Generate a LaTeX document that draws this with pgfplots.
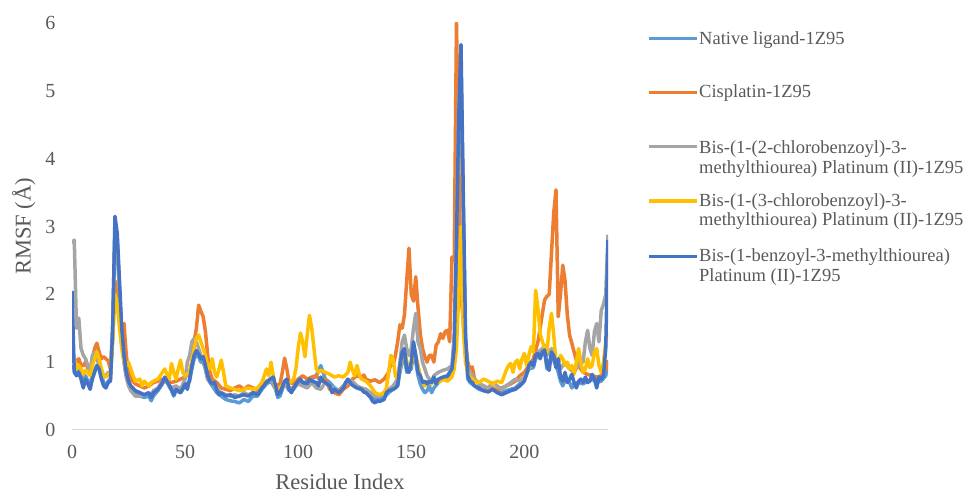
\documentclass[border=0pt]{standalone}
\usepackage{pgfplots}
\pgfplotsset{compat=1.18}
\usepackage{fontspec}
\setmainfont{Liberation Serif}
\definecolor{cNative}{HTML}{5B9BD5}
\definecolor{cCis}{HTML}{ED7D31}
\definecolor{cGray}{HTML}{A5A5A5}
\definecolor{cYel}{HTML}{FFC000}
\definecolor{cBlue}{HTML}{4472C4}
\definecolor{labelgray}{HTML}{595959}
\begin{document}
\begin{tikzpicture}
\path[use as bounding box] (0pt,0pt) rectangle (966pt,494pt);
\begin{axis}[
 at={(72pt,64pt)}, anchor=south west, scale only axis,
 width=536pt, height=407pt,
 xmin=0, xmax=237, ymin=0, ymax=6,
 axis x line*=bottom, axis y line*=left,
 y axis line style={draw=none},
 x axis line style={draw=black!15, line width=1pt, -},
 major tick length=0pt,
 xtick={0,50,100,150,200}, ytick={0,1,2,3,4,5,6},
 /pgf/number format/assume math mode=true,
 tick label style={font=\fontsize{20}{20}\selectfont, text=labelgray},
 yticklabel style={xshift=-13pt},
 xticklabel style={yshift=-12pt},
 xlabel={Residue Index}, ylabel={RMSF (Å)},
 every axis x label/.style={at={(axis description cs:0.5,-0.147)}, anchor=base, inner sep=0pt, font=\fontsize{22.5}{22.5}\selectfont, text=labelgray},
 every axis y label/.style={at={(axis description cs:-0.09,0.5)}, rotate=90, anchor=center, inner sep=0pt, font=\fontsize{22.5}{22.5}\selectfont, text=labelgray},
 every axis plot/.append style={line width=3.5pt, line join=round, no markers},
]
\addplot[cNative] coordinates {
(0,0.9)(1,0.95)(2,0.88)(3,0.9)(4,0.8)(5,0.7)(6,0.8)(7,0.72)(8,0.68)(9,0.8)(10,0.88)(11,0.95)(12,0.9)(13,0.8)(14,0.7)(15,0.66)(16,0.72)(17,0.75)(18,1.4)(19,2.9)(20,2.8)(21,2.0)(22,1.4)(23,1.0)(24,0.8)(25,0.7)(26,0.62)(28,0.55)(30,0.5)(32,0.48)(34,0.5)(35,0.43)(36,0.5)(38,0.58)(40,0.68)(41,0.75)(42,0.7)(44,0.58)(45,0.5)(46,0.58)(48,0.55)(50,0.65)(52,0.72)(53,0.9)(54,1.05)(55,1.1)(56,1.08)(57,1.0)(58,1.0)(59,0.9)(60,0.75)(62,0.65)(64,0.55)(66,0.5)(68,0.45)(70,0.43)(72,0.42)(74,0.4)(76,0.45)(78,0.42)(80,0.5)(82,0.5)(84,0.6)(86,0.68)(88,0.72)(90,0.6)(91,0.48)(92,0.5)(94,0.7)(96,0.58)(98,0.6)(100,0.7)(102,0.68)(104,0.72)(106,0.75)(108,0.8)(110,0.95)(111,0.85)(112,0.75)(114,0.7)(116,0.62)(118,0.58)(120,0.65)(122,0.72)(124,0.68)(126,0.62)(128,0.6)(130,0.55)(132,0.5)(134,0.45)(136,0.45)(138,0.48)(140,0.55)(142,0.6)(144,0.65)(145,0.85)(146,1.0)(147,1.1)(148,0.85)(150,0.9)(151,1.15)(152,1.0)(153,0.8)(154,0.68)(155,0.6)(156,0.55)(157,0.58)(158,0.65)(159,0.55)(160,0.62)(162,0.7)(164,0.75)(166,0.78)(168,0.85)(169,1.1)(170,2.5)(171,4.2)(172,5.3)(173,3.2)(174,1.3)(175,0.75)(176,0.7)(178,0.65)(180,0.6)(182,0.58)(184,0.6)(186,0.62)(188,0.58)(190,0.55)(192,0.58)(194,0.6)(196,0.62)(198,0.68)(200,0.75)(202,0.9)(204,0.92)(205,1.05)(206,1.1)(208,1.12)(209,1.15)(210,0.9)(212,1.1)(214,0.95)(215,0.85)(216,0.72)(217,0.65)(218,0.75)(220,0.7)(221,0.62)(222,0.68)(224,0.7)(226,0.68)(228,0.72)(230,0.75)(232,0.7)(234,0.72)(236,0.8)(237,1.0)
};
\addplot[cCis] coordinates {
(0,1.0)(1,1.05)(2,1.0)(3,1.05)(4,0.95)(5,0.95)(6,1.0)(7,0.9)(8,0.85)(9,1.05)(10,1.2)(11,1.28)(12,1.15)(13,1.05)(14,1.08)(15,1.05)(16,1.02)(17,0.9)(18,1.4)(19,2.2)(20,2.0)(21,1.7)(22,1.5)(23,1.57)(24,1.1)(25,0.85)(26,0.75)(28,0.68)(30,0.65)(32,0.62)(34,0.65)(36,0.7)(38,0.72)(40,0.75)(42,0.72)(44,0.7)(46,0.72)(48,0.75)(50,0.78)(52,0.85)(53,1.0)(54,1.3)(55,1.5)(56,1.84)(57,1.75)(58,1.67)(59,1.45)(60,1.1)(61,0.85)(62,0.75)(64,0.7)(66,0.62)(68,0.6)(70,0.58)(72,0.62)(74,0.65)(76,0.6)(78,0.65)(80,0.62)(82,0.6)(84,0.65)(86,0.72)(88,0.75)(90,0.65)(92,0.68)(93,0.85)(94,1.06)(95,0.9)(96,0.7)(98,0.68)(100,0.75)(102,0.8)(104,0.75)(106,0.78)(108,0.8)(110,0.72)(112,0.75)(114,0.6)(116,0.55)(118,0.52)(120,0.6)(122,0.65)(124,0.75)(126,0.8)(128,0.78)(129,0.81)(130,0.75)(132,0.72)(134,0.74)(136,0.7)(138,0.75)(139,0.8)(140,0.85)(141,0.98)(142,0.95)(143,1.1)(144,1.3)(145,1.55)(146,1.5)(147,1.7)(148,2.2)(149,2.68)(150,2.0)(151,1.9)(152,2.26)(153,1.8)(154,1.42)(155,1.2)(156,1.08)(157,1.0)(158,1.1)(159,1.1)(160,1.0)(161,1.25)(162,1.3)(163,1.42)(164,1.35)(165,1.45)(166,1.47)(167,1.3)(168,2.55)(169,2.5)(170,6.0)(171,4.0)(172,2.0)(173,1.6)(174,1.28)(175,1.0)(176,0.9)(177,0.93)(178,0.75)(180,0.68)(182,0.65)(184,0.6)(186,0.62)(188,0.58)(190,0.62)(192,0.65)(194,0.68)(196,0.72)(198,0.8)(200,0.85)(202,0.95)(204,1.05)(206,1.3)(207,1.5)(208,1.72)(209,1.92)(210,1.97)(211,2.0)(212,2.6)(213,3.2)(214,3.54)(215,1.67)(216,2.0)(217,2.43)(218,2.2)(219,1.7)(220,1.4)(221,1.28)(222,1.15)(223,1.03)(224,0.95)(225,0.9)(226,0.85)(228,0.82)(230,0.8)(232,0.78)(234,0.8)(236,0.9)(237,1.03)
};
\addplot[cGray] coordinates {
(0,2.75)(1,2.8)(2,1.5)(3,1.65)(4,1.2)(5,1.1)(6,1.05)(7,0.95)(8,0.85)(9,1.1)(10,1.15)(11,1.05)(12,0.95)(13,0.85)(14,0.78)(15,0.8)(16,0.85)(17,0.8)(18,1.6)(19,3.0)(20,2.7)(21,2.0)(22,1.4)(23,1.0)(24,0.78)(25,0.65)(26,0.58)(28,0.5)(30,0.5)(32,0.52)(34,0.55)(35,0.5)(36,0.58)(38,0.62)(40,0.72)(42,0.7)(44,0.62)(46,0.65)(48,0.6)(50,0.75)(51,1.0)(52,1.1)(53,1.3)(54,1.35)(55,1.3)(56,1.2)(57,1.1)(58,1.05)(59,0.9)(60,0.75)(62,0.7)(64,0.6)(66,0.55)(68,0.52)(70,0.5)(72,0.52)(74,0.5)(76,0.55)(78,0.52)(80,0.55)(82,0.55)(84,0.62)(86,0.7)(88,0.75)(90,0.62)(92,0.55)(94,0.7)(96,0.62)(98,0.62)(100,0.68)(102,0.65)(104,0.62)(106,0.7)(108,0.62)(110,0.6)(112,0.7)(114,0.65)(116,0.6)(118,0.58)(120,0.65)(122,0.7)(124,0.72)(126,0.65)(128,0.62)(130,0.6)(132,0.55)(134,0.5)(136,0.5)(138,0.55)(140,0.6)(142,0.65)(144,0.75)(145,1.0)(146,1.3)(147,1.4)(148,1.2)(149,1.1)(150,1.2)(151,1.5)(152,1.72)(153,1.3)(154,1.2)(155,1.0)(156,0.9)(157,0.8)(158,0.75)(159,0.72)(160,0.8)(162,0.85)(164,0.88)(166,0.9)(168,0.95)(169,1.4)(170,3.0)(171,4.8)(172,5.4)(173,3.3)(174,1.3)(175,0.9)(176,0.85)(178,0.75)(180,0.68)(182,0.65)(184,0.62)(186,0.7)(188,0.65)(190,0.6)(192,0.65)(194,0.7)(196,0.75)(198,0.72)(200,0.78)(202,0.9)(204,1.0)(205,1.05)(206,1.15)(208,1.2)(209,1.25)(210,1.1)(212,1.2)(214,1.0)(215,0.95)(216,0.9)(218,1.0)(220,0.9)(222,0.85)(224,0.95)(225,1.05)(226,1.0)(227,1.3)(228,1.47)(229,1.2)(230,1.1)(231,1.45)(232,1.57)(233,1.3)(234,1.76)(235,1.85)(236,2.0)(237,2.88)
};
\addplot[cYel] coordinates {
(0,1.0)(1,1.05)(2,0.9)(3,0.95)(4,0.9)(5,0.82)(6,0.88)(7,0.85)(8,0.8)(9,0.95)(10,1.05)(11,1.15)(12,1.05)(13,0.9)(14,0.8)(15,0.78)(16,0.82)(17,0.85)(18,1.3)(19,2.0)(20,1.85)(21,1.5)(22,1.2)(23,1.0)(24,0.95)(25,1.0)(26,0.9)(27,0.8)(28,0.72)(30,0.75)(31,0.65)(32,0.72)(34,0.65)(35,0.7)(36,0.72)(38,0.75)(40,0.85)(41,0.9)(42,0.82)(43,0.75)(44,0.98)(45,0.85)(46,0.75)(47,0.9)(48,1.03)(49,0.85)(50,0.8)(52,0.85)(53,1.0)(54,1.2)(55,1.35)(56,1.4)(57,1.3)(58,1.2)(59,1.1)(60,0.95)(61,0.9)(62,1.05)(63,0.85)(64,0.78)(65,0.9)(66,1.03)(67,0.85)(68,0.65)(70,0.62)(72,0.6)(74,0.58)(76,0.6)(78,0.62)(80,0.6)(82,0.62)(84,0.7)(86,0.9)(87,0.8)(88,1.0)(89,0.8)(90,0.6)(92,0.62)(94,0.7)(96,0.68)(98,0.75)(99,0.9)(100,1.2)(101,1.43)(102,1.3)(103,1.08)(104,1.4)(105,1.69)(106,1.5)(107,1.2)(108,0.9)(109,0.85)(110,0.88)(112,0.85)(114,0.82)(116,0.78)(118,0.8)(120,0.78)(122,0.85)(123,1.0)(124,0.88)(125,0.8)(126,0.95)(127,0.82)(128,0.75)(130,0.72)(132,0.65)(134,0.55)(136,0.52)(138,0.55)(139,0.62)(140,0.85)(141,1.1)(142,1.05)(143,0.8)(144,0.75)(145,0.9)(146,1.1)(147,1.2)(148,1.0)(150,0.95)(151,1.2)(152,1.1)(153,0.95)(154,0.8)(155,0.7)(156,0.65)(157,0.7)(158,0.72)(159,0.68)(160,0.75)(162,0.7)(164,0.75)(166,0.72)(168,0.78)(169,0.9)(170,1.2)(171,2.0)(172,3.0)(173,1.5)(174,1.0)(175,0.85)(176,0.78)(178,0.72)(180,0.7)(182,0.75)(184,0.72)(186,0.68)(188,0.72)(190,0.7)(192,0.88)(193,0.95)(194,0.98)(195,0.85)(196,1.0)(197,1.03)(198,0.9)(199,1.05)(200,1.13)(201,0.95)(202,1.1)(203,1.23)(204,1.15)(205,2.06)(206,1.8)(207,1.42)(208,1.3)(209,1.2)(210,1.15)(211,1.5)(212,1.72)(213,1.4)(214,1.0)(215,0.98)(216,1.1)(217,1.05)(218,0.95)(219,1.0)(220,0.9)(221,0.95)(222,0.82)(223,1.0)(224,1.2)(225,1.0)(226,0.85)(227,0.9)(228,1.05)(229,0.92)(230,0.95)(231,1.15)(232,1.2)(233,0.95)(234,0.85)(235,1.0)(236,1.3)(237,1.45)
};
\addplot[cBlue] coordinates {
(0,2.05)(1,0.85)(2,0.8)(3,0.85)(4,0.75)(5,0.62)(6,0.75)(7,0.68)(8,0.6)(9,0.75)(10,0.85)(11,0.95)(12,0.9)(13,0.75)(14,0.65)(15,0.62)(16,0.7)(17,0.72)(18,1.5)(19,3.15)(20,2.9)(21,2.2)(22,1.5)(23,1.1)(24,0.85)(25,0.72)(26,0.65)(28,0.58)(30,0.55)(32,0.52)(34,0.55)(35,0.48)(36,0.55)(38,0.6)(40,0.7)(41,0.78)(42,0.72)(44,0.6)(45,0.52)(46,0.6)(48,0.55)(50,0.68)(51,0.6)(52,0.75)(53,0.95)(54,1.1)(55,1.17)(56,1.12)(57,1.05)(58,1.08)(59,0.95)(60,0.8)(61,0.72)(62,0.68)(63,0.7)(64,0.6)(65,0.52)(66,0.55)(68,0.5)(70,0.52)(72,0.48)(74,0.5)(76,0.52)(78,0.5)(80,0.55)(82,0.52)(84,0.62)(86,0.7)(88,0.76)(89,0.78)(90,0.65)(91,0.52)(92,0.55)(94,0.72)(95,0.75)(96,0.6)(97,0.55)(98,0.62)(100,0.72)(101,0.75)(102,0.7)(104,0.68)(105,0.75)(106,0.72)(108,0.7)(109,0.65)(110,0.78)(111,0.72)(112,0.7)(114,0.65)(115,0.55)(116,0.6)(118,0.55)(120,0.62)(121,0.7)(122,0.75)(123,0.7)(124,0.66)(126,0.62)(128,0.6)(129,0.56)(130,0.55)(132,0.48)(133,0.42)(134,0.4)(135,0.43)(136,0.42)(138,0.45)(139,0.55)(140,0.58)(142,0.6)(143,0.62)(144,0.66)(145,0.95)(146,1.15)(147,1.2)(148,0.9)(149,0.85)(150,1.0)(151,1.3)(152,1.1)(153,0.85)(154,0.8)(155,0.7)(156,0.72)(157,0.68)(158,0.72)(159,0.7)(160,0.78)(161,0.68)(162,0.75)(164,0.78)(166,0.8)(168,0.9)(169,1.2)(170,2.8)(171,4.6)(172,5.68)(173,3.5)(174,1.4)(175,0.8)(176,0.72)(177,0.7)(178,0.65)(180,0.62)(182,0.58)(184,0.56)(186,0.6)(188,0.55)(190,0.52)(192,0.55)(194,0.58)(196,0.6)(198,0.65)(200,0.72)(201,0.82)(202,0.95)(203,1.0)(204,0.95)(205,1.1)(206,1.13)(207,1.05)(208,1.15)(209,1.18)(210,0.95)(211,0.88)(212,1.15)(213,1.1)(214,0.92)(215,1.05)(216,0.78)(217,0.72)(218,0.85)(219,0.7)(220,0.75)(221,0.82)(222,0.7)(223,0.62)(224,0.72)(225,0.75)(226,0.7)(227,0.78)(228,0.7)(229,0.72)(230,0.82)(231,0.75)(232,0.62)(233,0.78)(234,0.75)(235,0.8)(236,1.2)(237,2.8)
};
\end{axis}
% legend
\begin{scope}[every node/.style={anchor=base west, inner sep=0pt, text=labelgray, font=\fontsize{18.5}{20}\selectfont}]
\draw[cNative, line width=3.5pt] (649pt,455.7pt) -- (697pt,455.7pt);
\node at (699pt,449pt) {Native ligand-1Z95};
\draw[cCis, line width=3.5pt] (649pt,401.3pt) -- (697pt,401.3pt);
\node at (699pt,396pt) {Cisplatin-1Z95};
\draw[cGray, line width=3.5pt] (649pt,347.3pt) -- (697pt,347.3pt);
\node at (699pt,340.7pt) {Bis-(1-(2-chlorobenzoyl)-3-};
\node at (699pt,320.7pt) {methylthiourea) Platinum (II)-1Z95};
\draw[cYel, line width=3.5pt] (649pt,293pt) -- (697pt,293pt);
\node at (699pt,287.3pt) {Bis-(1-(3-chlorobenzoyl)-3-};
\node at (699pt,268pt) {methylthiourea) Platinum (II)-1Z95};
\draw[cBlue, line width=3.5pt] (649pt,237.3pt) -- (697pt,237.3pt);
\node at (699pt,232.3pt) {Bis-(1-benzoyl-3-methylthiourea)};
\node at (699pt,212.3pt) {Platinum (II)-1Z95};
\end{scope}
\end{tikzpicture}
\end{document}
